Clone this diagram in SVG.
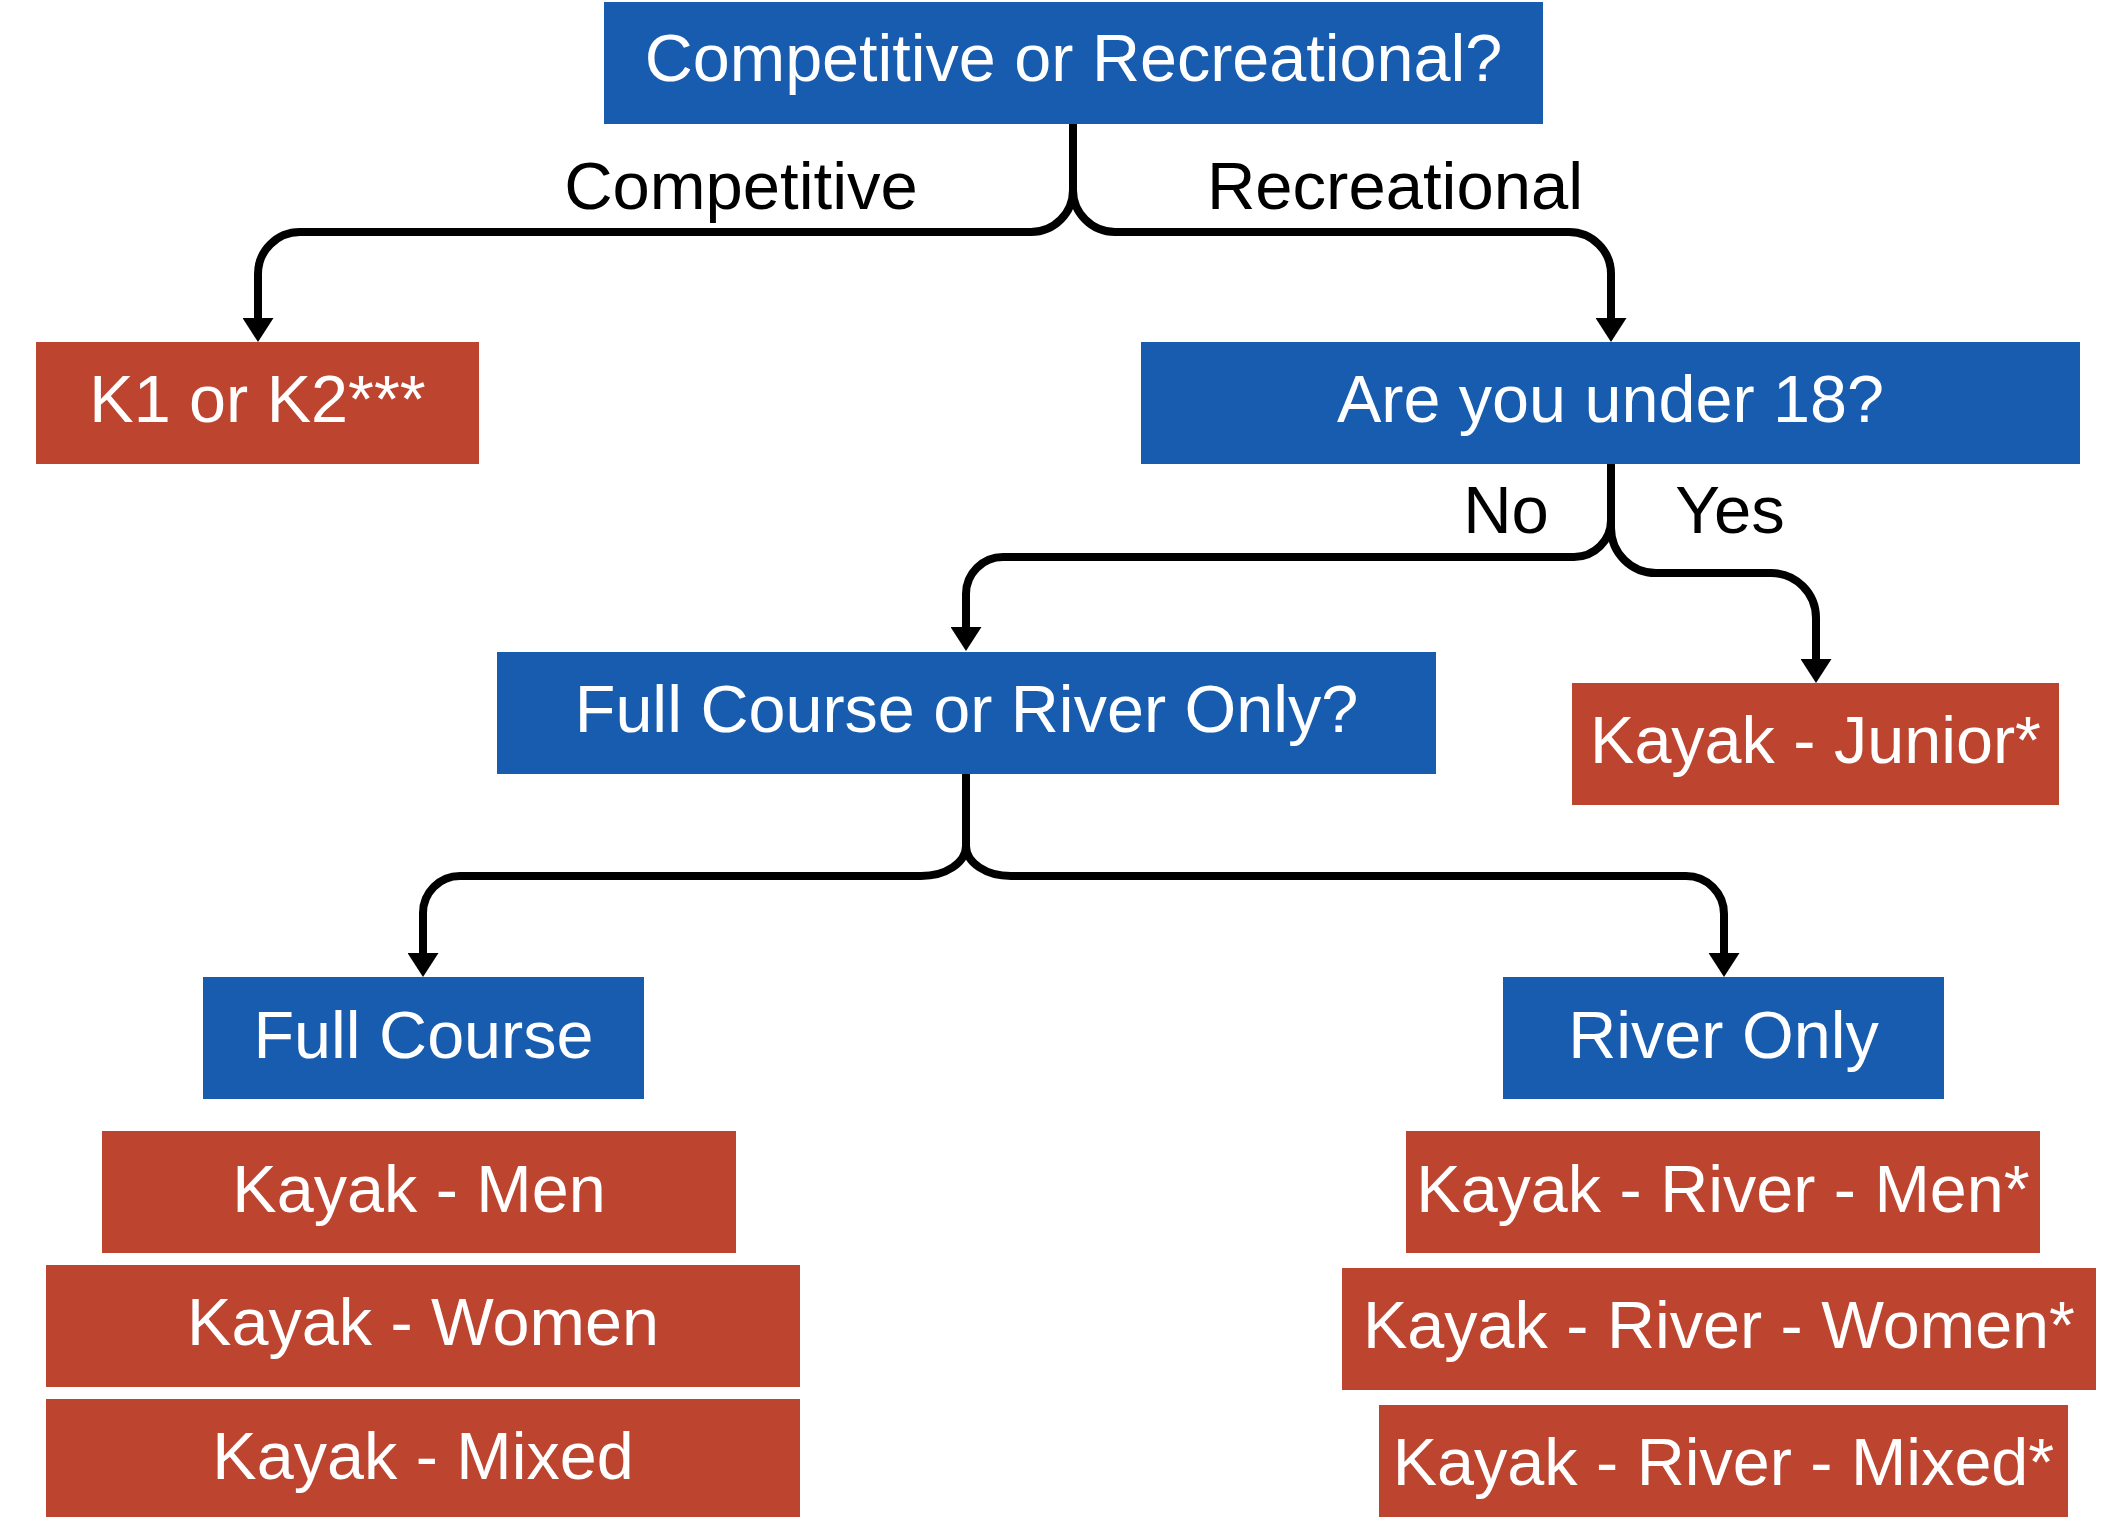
<svg xmlns="http://www.w3.org/2000/svg" width="2117" height="1517" viewBox="0 0 2117 1517">
<style>
.blue{fill:#185CB0}
.red{fill:#BD4530}
.nt{font-family:"Liberation Sans",Arial,sans-serif;font-size:66.5px;fill:#ffffff;text-anchor:middle}
.lb{font-family:"Liberation Sans",Arial,sans-serif;font-size:67px;fill:#000000;text-anchor:middle}
.cn{fill:none;stroke:#000000;stroke-width:8;marker-end:url(#ah)}
</style>
<defs>
<marker id="ah" markerUnits="userSpaceOnUse" viewBox="0 0 24 31" refX="2" refY="15.5" markerWidth="24" markerHeight="31" orient="auto">
<path d="M0,0 L24,15.5 L0,31 Z" fill="#000000"/>
</marker>
</defs>
<rect width="2117" height="1517" fill="#ffffff"/>
<g id="connectors">
<path class="cn" d="M1073,124 V190 A42,42 0 0 1 1031,232 H300 A42,42 0 0 0 258,274 V320"/>
<path class="cn" d="M1073,124 V190 A42,42 0 0 0 1115,232 H1569 A42,42 0 0 1 1611,274 V320"/>
<path class="cn" d="M1611,464 V520 A37,37 0 0 1 1574,557 H1003 A37,37 0 0 0 966,594 V629"/>
<path class="cn" d="M1611,464 V528 A45,45 0 0 0 1656,573 H1771 A45,45 0 0 1 1816,618 V661"/>
<path class="cn" d="M966,774 V846 A45,30 0 0 1 921,876 H460 A37,37 0 0 0 423,913 V955"/>
<path class="cn" d="M966,774 V846 A45,30 0 0 0 1011,876 H1686 A38,38 0 0 1 1724,914 V955"/>
</g>
<g id="labels">
<text class="lb" x="741" y="209">Competitive</text>
<text class="lb" x="1395" y="209">Recreational</text>
<text class="lb" x="1506" y="533">No</text>
<text class="lb" x="1730" y="533">Yes</text>
</g>
<g id="n-top"><rect class="blue" x="604" y="2" width="939" height="122"/><text class="nt" x="1073.5" y="81">Competitive or Recreational?</text></g>
<g id="n-k1k2"><rect class="red" x="36" y="342" width="443" height="122"/><text class="nt" x="257.5" y="422">K1 or K2***</text></g>
<g id="n-under18"><rect class="blue" x="1141" y="342" width="939" height="122"/><text class="nt" x="1610.5" y="422">Are you under 18?</text></g>
<g id="n-fullorriver"><rect class="blue" x="497" y="652" width="939" height="122"/><text class="nt" x="966.5" y="732">Full Course or River Only?</text></g>
<g id="n-junior"><rect class="red" x="1572" y="683" width="487" height="122"/><text class="nt" x="1815.5" y="763">Kayak - Junior*</text></g>
<g id="n-fullcourse"><rect class="blue" x="203" y="977" width="441" height="122"/><text class="nt" x="423.5" y="1058">Full Course</text></g>
<g id="n-riveronly"><rect class="blue" x="1503" y="977" width="441" height="122"/><text class="nt" x="1723.5" y="1058">River Only</text></g>
<g id="n-men"><rect class="red" x="102" y="1131" width="634" height="122"/><text class="nt" x="419" y="1212">Kayak - Men</text></g>
<g id="n-women"><rect class="red" x="46" y="1265" width="754" height="122"/><text class="nt" x="423" y="1345">Kayak - Women</text></g>
<g id="n-mixed"><rect class="red" x="46" y="1399" width="754" height="122"/><text class="nt" x="423" y="1479">Kayak - Mixed</text></g>
<g id="n-rmen"><rect class="red" x="1406" y="1131" width="634" height="122"/><text class="nt" x="1723" y="1212">Kayak - River - Men*</text></g>
<g id="n-rwomen"><rect class="red" x="1342" y="1268" width="754" height="122"/><text class="nt" x="1719" y="1348">Kayak - River - Women*</text></g>
<g id="n-rmixed"><rect class="red" x="1379" y="1405" width="689" height="122"/><text class="nt" x="1723.5" y="1485">Kayak - River - Mixed*</text></g>
</svg>
